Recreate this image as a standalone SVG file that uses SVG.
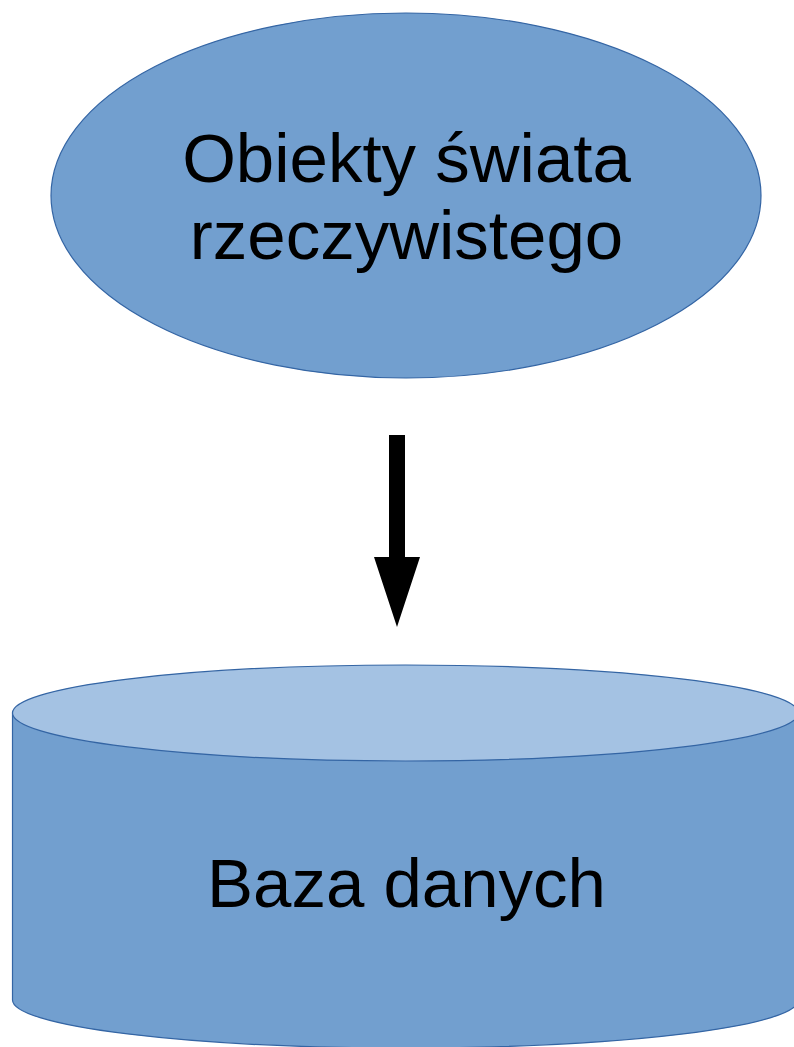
<svg xmlns="http://www.w3.org/2000/svg" width="794" height="1047" viewBox="0 0 794 1047">
<style>
.shape{fill:#729fcf;stroke:#3465a4;stroke-width:1.2}
.top{fill:#a4c2e3;stroke:#3465a4;stroke-width:1.2}
.lbl{font-family:"Liberation Sans",Arial,sans-serif;font-size:69px;fill:#000;text-anchor:middle}
</style>
<rect width="794" height="1047" fill="#fff"/>
<g id="node-obiekty">
<ellipse class="shape" cx="406" cy="195.5" rx="355" ry="182.5"/>
<text class="lbl" x="406.5" y="182">Obiekty świata</text>
<text class="lbl" x="406.5" y="259">rzeczywistego</text>
</g>
<g id="node-baza">
<path class="shape" d="M12.5,713 L12.5,1000 A393,48 0 0 0 798.5,1000 L798.5,713 Z"/>
<ellipse class="top" cx="405.5" cy="713" rx="393" ry="48"/>
<text class="lbl" x="406.5" y="907">Baza danych</text>
</g>
<g id="connectors">
<path d="M389,435 L405,435 L405,557 L420,557 L397,627 L374,557 L389,557 Z" fill="#000"/>
</g>
</svg>
